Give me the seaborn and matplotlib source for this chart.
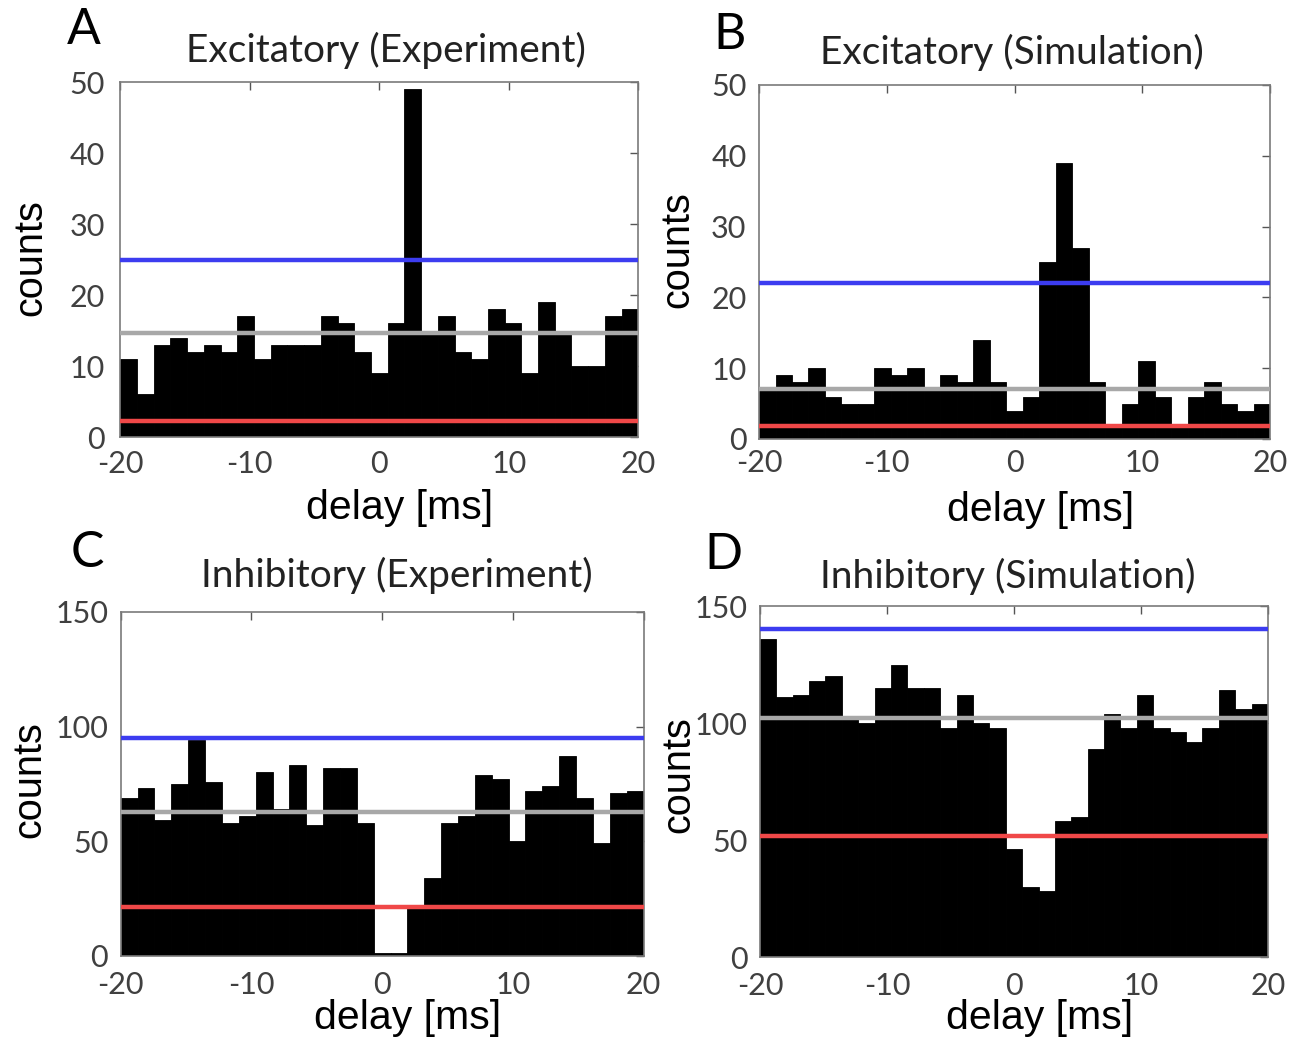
import numpy as np
import pandas as pd
import matplotlib
matplotlib.use("Agg")
import matplotlib.pyplot as plt
import seaborn as sns

# ── Data ──────────────────────────────────────────────────────────────────────
N_BINS = 31                                   # ~1.3 ms bins over ±20 ms
BIN_EDGES = np.linspace(-20, 20, N_BINS + 1)
BIN_CENTERS = (BIN_EDGES[:-1] + BIN_EDGES[1:]) / 2

exc_exp = [11, 6, 13, 14, 12, 13, 12, 17, 11, 13, 13, 13, 17, 16, 12, 9,
           16, 49, 15, 17, 12, 11, 18, 16, 9, 19, 15, 10, 10, 17, 18]
exc_sim = [7, 9, 8, 10, 6, 5, 5, 10, 9, 10, 7, 9, 8, 14, 8, 4,
           6, 25, 39, 27, 8, 2, 5, 11, 6, 2, 6, 8, 5, 4, 5]
inh_exp = [69, 73, 59, 75, 94, 76, 58, 61, 80, 64, 83, 57, 82, 82, 58, 1,
           1, 21, 34, 58, 61, 79, 77, 50, 72, 74, 87, 69, 49, 71, 72]
inh_sim = [136, 111, 112, 118, 120, 102, 100, 115, 125, 115, 115, 98, 112, 100, 98, 46,
           30, 28, 58, 60, 89, 104, 98, 112, 98, 96, 92, 98, 114, 106, 108]

# threshold lines: upper bound, mean, lower bound
upper = [25, 22, 95, 140]
mean = [14.7, 7, 62.8, 102]
lower = [2.2, 1.9, 21.2, 51.7]

titles = ["Excitatory (Experiment)", "Excitatory (Simulation)",
          "Inhibitory (Experiment)", "Inhibitory (Simulation)"]
letters = ["A", "B", "C", "D"]
y_max = [50, 50, 150, 150]
y_ticks = [np.arange(0, 51, 10), np.arange(0, 51, 10),
           np.arange(0, 151, 50), np.arange(0, 151, 50)]
x_ticks = [-20, -10, 0, 10, 20]

# ── Style ─────────────────────────────────────────────────────────────────────
sns.set_theme(style="white")
plt.rcParams["font.family"] = ["Lato", "DejaVu Sans"]
plt.rcParams["axes.unicode_minus"] = False
plt.rcParams["xtick.direction"] = "in"
plt.rcParams["ytick.direction"] = "in"

BLUE = "#3c3cf0"
GRAY = "#a8a8a8"
RED = "#f04848"
TICK_COL = "#404040"
LABEL_FONT = ["Liberation Sans", "DejaVu Sans"]

# axes boxes in figure fractions [left, bottom, width, height]
boxes = [
    [0.0920, 0.5798, 0.3960, 0.3413],
    [0.5803, 0.5779, 0.3907, 0.3404],
    [0.0923, 0.0811, 0.3997, 0.3305],
    [0.5810, 0.0798, 0.3884, 0.3375],
]
title_pos = [(0.513, 1.09), (0.495, 1.093), (0.529, 1.105), (0.488, 1.085)]
ylabel_pos = [(-0.174, 0.504), (-0.159, 0.534), (-0.174, 0.511), (-0.161, 0.52)]
xlabel_pos = [(0.54, -0.20), (0.55, -0.20), (0.548, -0.181), (0.551, -0.174)]
letter_pos = [(0.064, 0.971), (0.558, 0.966), (0.067, 0.468), (0.553, 0.466)]
x_pad = [9, 7, 11, 11]
y_pad = [11, 9, 9, 9]

fig = plt.figure(figsize=(13.08, 10.40), dpi=100)

for i, counts in enumerate([exc_exp, exc_sim, inh_exp, inh_sim]):
    ax = fig.add_axes(boxes[i])
    df = pd.DataFrame({"delay": BIN_CENTERS, "counts": counts})
    sns.histplot(data=df, x="delay", weights="counts", bins=N_BINS,
                 binrange=(-20, 20), color="black", alpha=1,
                 edgecolor="black", linewidth=0.6, ax=ax)

    ax.axhline(upper[i], color=BLUE, lw=3.2, zorder=3)
    ax.axhline(mean[i], color=GRAY, lw=3.2, zorder=3)
    ax.axhline(lower[i], color=RED, lw=3.2, zorder=3)

    ax.set_xlim(-20, 20)
    ax.set_ylim(0, y_max[i])
    ax.set_xticks(x_ticks)
    ax.set_yticks(y_ticks[i])
    ax.tick_params(axis="both", which="both", direction="in", length=6, width=1,
                   color="#555555", labelcolor=TICK_COL, labelsize=22,
                   top=True, right=True)
    ax.tick_params(axis="y", pad=y_pad[i])
    ax.tick_params(axis="x", pad=x_pad[i])
    for s in ax.spines.values():
        s.set_visible(True)
        s.set_color("#7a7a7a")
        s.set_linewidth(1.2)

    ax.set_xlabel("delay [ms]", fontsize=29.5, family=LABEL_FONT, color="black")
    ax.set_ylabel("counts", fontsize=28.5, family=LABEL_FONT, color="black")
    ax.xaxis.set_label_coords(*xlabel_pos[i])
    ax.yaxis.set_label_coords(*ylabel_pos[i])
    ax.xaxis.label.set_va("center")
    ax.yaxis.label.set_va("center")

    ax.text(*title_pos[i], titles[i], transform=ax.transAxes, ha="center",
            va="center", fontsize=28, color="#222222")
    fig.text(*letter_pos[i], letters[i], ha="center", va="center",
             fontsize=36, color="black")

fig.savefig("out.png", dpi=100)
